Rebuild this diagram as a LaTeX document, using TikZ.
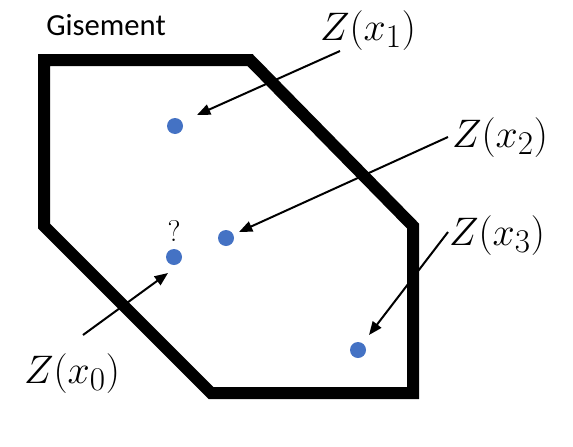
\documentclass[tikz,border=0pt]{standalone}
\usepackage{fontspec}
\newfontfamily\calibri{Carlito}
\usetikzlibrary{arrows.meta}
\definecolor{dotblue}{RGB}{68,114,196}
\tikzset{
  zone/.style={line width=9pt, line join=miter},
  pt/.style={circle, fill=dotblue, inner sep=0pt, minimum size=12pt},
  lab/.style={anchor=base, font=\fontsize{24.88}{28}\selectfont, inner sep=0pt, scale=1.2},
  arr/.style={line width=1.5pt, -{Triangle[length=10pt,width=8pt]}}
}
\begin{document}
\begin{tikzpicture}[x=0.75pt,y=-0.75pt]
\useasboundingbox (0,0) rectangle (573,446);
% gisement boundary
\draw[zone] (44,60) -- (250,60) -- (413,226) -- (413,393) -- (211,393) -- (44,226) -- cycle;
\node[anchor=base west, inner sep=0pt, font=\calibri\fontsize{23}{26}\selectfont] (gis) at (46,35.5) {Gisement};
% points
\node[pt] (p1) at (175,126) {};
\node[pt] (p2) at (226,238) {};
\node[pt] (p0) at (174,257) {};
\node[pt] (p3) at (358,350) {};
\node[anchor=base, inner sep=0pt, font=\fontsize{17.28}{20}\selectfont, scale=1.3] (q) at (174,241.5) {?};
% labels
\node[lab] (z1) at (368,40) {$Z(x_1)$};
\node[lab] (z2) at (500,147) {$Z(x_2)$};
\node[lab] (z3) at (497,245) {$Z(x_3)$};
\node[lab] (z0) at (72,383) {$Z(x_0)$};
% arrow ends
\coordinate (s1) at (340,51);
\coordinate (e1) at (197,115);
\coordinate (s2) at (448,137);
\coordinate (e2) at (239,232);
\coordinate (s3) at (448,232);
\coordinate (e3) at (369,335);
\coordinate (s0) at (83,335);
\coordinate (e0) at (168,273);
\draw[arr] (s1) -- (e1);
\draw[arr] (s2) -- (e2);
\draw[arr] (s3) -- (e3);
\draw[arr] (s0) -- (e0);
\end{tikzpicture}
\end{document}
